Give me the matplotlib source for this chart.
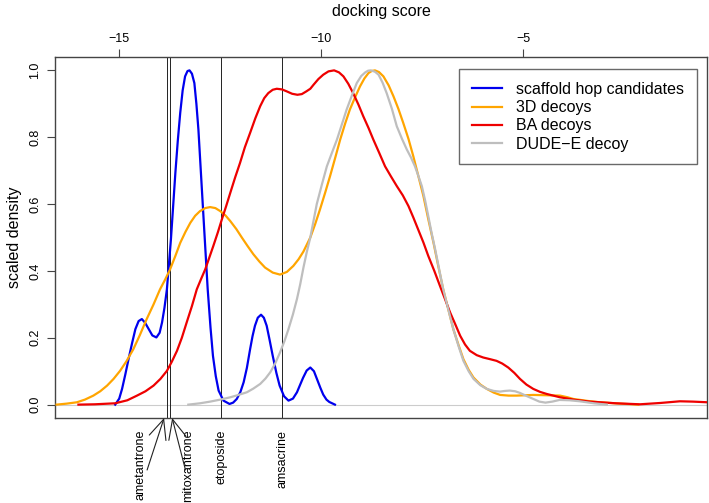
import matplotlib
matplotlib.use("Agg")
import matplotlib.pyplot as plt
from matplotlib.patches import ArrowStyle

plt.rcParams['font.family'] = ['Liberation Sans', 'DejaVu Sans']

# scaled density curves
blue_x = [-15.10, -15.00, -14.93, -14.85, -14.77, -14.68, -14.60, -14.52, -14.44, -14.36,
          -14.27, -14.18, -14.08, -14.00, -13.94, -13.88, -13.82, -13.72, -13.61, -13.55,
          -13.49, -13.43, -13.37, -13.31, -13.26, -13.20, -13.14, -13.09, -13.04, -12.93,
          -12.81, -12.74, -12.68, -12.61, -12.54, -12.42, -12.27, -12.18, -12.09, -12.00,
          -11.92, -11.84, -11.76, -11.70, -11.64, -11.57, -11.49, -11.42, -11.35, -11.28,
          -11.20, -11.11, -11.03, -10.92, -10.81, -10.70, -10.60, -10.52, -10.45, -10.36,
          -10.27, -10.18, -10.10, -10.02, -9.95, -9.87, -9.80, -9.66]
blue_y = [0.0, 0.018, 0.047, 0.09, 0.136, 0.185, 0.226, 0.250, 0.256, 0.245,
          0.226, 0.207, 0.201, 0.215, 0.246, 0.29, 0.345, 0.495, 0.694, 0.79,
          0.873, 0.94, 0.982, 0.998, 1.0, 0.99, 0.962, 0.90, 0.823, 0.594,
          0.345, 0.23, 0.146, 0.085, 0.042, 0.012, 0.002, 0.006, 0.017, 0.038,
          0.067, 0.11, 0.166, 0.205, 0.236, 0.260, 0.269, 0.260, 0.236, 0.195,
          0.146, 0.095, 0.057, 0.025, 0.012, 0.018, 0.037, 0.06, 0.08, 0.102,
          0.111, 0.100, 0.075, 0.05, 0.03, 0.015, 0.008, 0.0]

orange_x = [-16.55, -16.30, -16.05, -15.85, -15.64, -15.47, -15.30, -15.14, -14.98, -14.82,
            -14.65, -14.49, -14.32, -14.15, -13.99, -13.86, -13.74, -13.61, -13.49, -13.36,
            -13.24, -13.12, -13.00, -12.87, -12.75, -12.62, -12.50, -12.37, -12.25, -12.10,
            -11.96, -11.82, -11.68, -11.53, -11.39, -11.20, -11.02, -10.85, -10.69, -10.56,
            -10.44, -10.27, -10.15, -10.03, -9.90, -9.78, -9.65, -9.53, -9.41, -9.29,
            -9.16, -9.04, -8.93, -8.83, -8.75, -8.67, -8.57, -8.46, -8.33, -8.21,
            -8.09, -7.97, -7.84, -7.72, -7.60, -7.47, -7.35, -7.22, -7.10, -6.98,
            -6.85, -6.73, -6.60, -6.48, -6.35, -6.23, -6.06, -5.90, -5.73, -5.57,
            -5.36, -5.16, -4.75, -4.40, -4.09, -3.90, -3.76, -3.40, -3.10, -2.60, -2.15]
orange_y = [0.0, 0.003, 0.007, 0.015, 0.027, 0.04, 0.057, 0.077, 0.101, 0.13,
            0.166, 0.208, 0.256, 0.30, 0.345, 0.375, 0.405, 0.445, 0.484, 0.517,
            0.544, 0.565, 0.579, 0.588, 0.591, 0.588, 0.579, 0.566, 0.549, 0.525,
            0.499, 0.474, 0.450, 0.428, 0.410, 0.395, 0.389, 0.397, 0.415, 0.435,
            0.458, 0.50, 0.54, 0.584, 0.635, 0.684, 0.74, 0.793, 0.84, 0.883,
            0.92, 0.952, 0.976, 0.992, 0.998, 1.0, 0.995, 0.982, 0.955, 0.922,
            0.885, 0.843, 0.795, 0.743, 0.686, 0.624, 0.555, 0.484, 0.413, 0.345,
            0.283, 0.226, 0.178, 0.136, 0.104, 0.081, 0.06, 0.047, 0.036, 0.029,
            0.027, 0.027, 0.029, 0.028, 0.027, 0.022, 0.017, 0.011, 0.007, 0.003, 0.0]

red_x = [-16.01, -15.60, -15.10, -14.80, -14.56, -14.35, -14.15, -13.98, -13.82, -13.70,
         -13.57, -13.45, -13.33, -13.20, -13.08, -12.97, -12.87, -12.77, -12.67, -12.56,
         -12.46, -12.35, -12.25, -12.13, -12.01, -11.89, -11.76, -11.63, -11.51, -11.41,
         -11.31, -11.20, -11.10, -10.97, -10.85, -10.72, -10.59, -10.48, -10.37, -10.27,
         -10.19, -10.07, -9.95, -9.82, -9.68, -9.56, -9.45, -9.33, -9.21, -9.08,
         -8.96, -8.83, -8.71, -8.56, -8.42, -8.27, -8.13, -7.98, -7.84, -7.72,
         -7.60, -7.47, -7.35, -7.20, -7.06, -6.93, -6.81, -6.68, -6.56, -6.44,
         -6.32, -6.15, -5.99, -5.82, -5.66, -5.52, -5.37, -5.22, -5.08, -4.92,
         -4.75, -4.58, -4.42, -4.09, -3.70, -3.35, -2.70, -2.11, -1.60, -1.12, -0.80, -0.43]
red_y = [0.0, 0.001, 0.004, 0.013, 0.027, 0.04, 0.057, 0.077, 0.101, 0.128,
         0.161, 0.2, 0.246, 0.295, 0.345, 0.377, 0.405, 0.44, 0.475, 0.515,
         0.554, 0.595, 0.634, 0.68, 0.723, 0.77, 0.813, 0.857, 0.893, 0.917,
         0.932, 0.942, 0.945, 0.943, 0.937, 0.930, 0.927, 0.929, 0.937, 0.945,
         0.957, 0.974, 0.987, 0.997, 1.0, 0.994, 0.982, 0.96, 0.932, 0.898,
         0.863, 0.828, 0.793, 0.752, 0.713, 0.682, 0.654, 0.626, 0.594, 0.56,
         0.524, 0.485, 0.445, 0.40, 0.355, 0.314, 0.276, 0.24, 0.206, 0.18,
         0.161, 0.148, 0.141, 0.136, 0.131, 0.123, 0.111, 0.095, 0.077, 0.06,
         0.047, 0.038, 0.032, 0.022, 0.014, 0.009, 0.004, 0.001, 0.005, 0.01, 0.009, 0.007]

grey_x = [-13.29, -13.00, -12.75, -12.50, -12.25, -12.05, -11.84, -11.68, -11.51, -11.38,
          -11.26, -11.14, -11.02, -10.91, -10.81, -10.70, -10.60, -10.52, -10.44, -10.36,
          -10.27, -10.19, -10.11, -9.98, -9.86, -9.73, -9.61, -9.49, -9.37, -9.24,
          -9.12, -9.01, -8.91, -8.84, -8.77, -8.67, -8.58, -8.48, -8.38, -8.25,
          -8.13, -8.00, -7.88, -7.78, -7.68, -7.60, -7.51, -7.43, -7.35, -7.27,
          -7.18, -7.08, -6.98, -6.85, -6.73, -6.60, -6.48, -6.35, -6.23, -6.06,
          -5.90, -5.73, -5.57, -5.45, -5.33, -5.20, -5.08, -4.92, -4.75, -4.60,
          -4.45, -4.28, -4.10, -3.85, -3.60, -3.25, -2.93]
grey_y = [0.0, 0.004, 0.009, 0.015, 0.022, 0.029, 0.037, 0.048, 0.062, 0.078,
          0.097, 0.123, 0.156, 0.19, 0.226, 0.27, 0.316, 0.36, 0.41, 0.455,
          0.50, 0.55, 0.60, 0.66, 0.713, 0.755, 0.793, 0.838, 0.883, 0.925,
          0.962, 0.983, 0.994, 0.999, 1.0, 0.996, 0.987, 0.963, 0.932, 0.885,
          0.833, 0.795, 0.763, 0.74, 0.713, 0.686, 0.654, 0.612, 0.564, 0.515,
          0.465, 0.405, 0.345, 0.283, 0.226, 0.175, 0.131, 0.10, 0.077, 0.058,
          0.047, 0.041, 0.039, 0.041, 0.042, 0.04, 0.035, 0.026, 0.017, 0.009,
          0.006, 0.009, 0.014, 0.013, 0.01, 0.004, 0.0]

series_labels = ['scaffold hop candidates', '3D decoys', 'BA decoys', 'DUDE\u2212E decoy']

drug_names = ['ametantrone', 'mitoxantrone', 'etoposide', 'amsacrine']
drug_scores = [-13.82, -13.74, -12.48, -10.96]

fig = plt.figure(figsize=(7.09, 5.03), dpi=100)
ax = fig.add_axes([55 / 709, 1 - 418 / 503, 652 / 709, 361 / 503])

ax.axhline(0, color='#cccccc', lw=0.8, zorder=1)
lw = 1.6
ax.plot(blue_x, blue_y, color='#0000ee', lw=lw, label=series_labels[0], zorder=3)
ax.plot(orange_x, orange_y, color='#ffa500', lw=lw, label=series_labels[1], zorder=3)
ax.plot(red_x, red_y, color='#ee0000', lw=lw, label=series_labels[2], zorder=3)
ax.plot(grey_x, grey_y, color='#bebebe', lw=lw, label=series_labels[3], zorder=3)

for s in drug_scores:
    ax.axvline(s, color='#222222', lw=0.7, zorder=2)

ax.set_xlim(-16.59, -0.45)
ax.set_ylim(-0.04, 1.04)

ax.xaxis.tick_top()
ax.xaxis.set_label_position('top')
ax.set_xticks([-15, -10, -5])
ax.tick_params(axis='x', length=6, width=0.8, color='#444444', labelsize=9, pad=3)
ax.set_xlabel('docking score', fontsize=11.5, labelpad=12)

ax.set_yticks([0, 0.2, 0.4, 0.6, 0.8, 1.0])
ax.set_yticklabels(['0.0', '0.2', '0.4', '0.6', '0.8', '1.0'], rotation=90, va='center')
ax.tick_params(axis='y', length=6, width=0.8, color='#444444', labelsize=9, pad=4)
ax.set_ylabel('scaled density', fontsize=11.5, labelpad=5)

for sp in ax.spines.values():
    sp.set_color('#444444')
    sp.set_linewidth(1.0)

# drug labels under the plot; the two overlapping ones get arrows
trans = ax.get_xaxis_transform()
label_dx = [-0.66, 0.45, 0.0, 0.0]
arrow_dx = [-0.07, 0.05]
for i, (name, s) in enumerate(zip(drug_names, drug_scores)):
    ax.text(s + label_dx[i], -0.033, name, rotation=90, ha='center', va='top',
            fontsize=9, transform=trans, clip_on=False)
    if i < 2:
        ax.annotate('', xy=(s + arrow_dx[i], 0), xycoords=trans,
                    xytext=(s + label_dx[i] + (0.17 if i == 0 else -0.07), -0.144),
                    textcoords=trans,
                    arrowprops=dict(arrowstyle=ArrowStyle('->', head_length=1.0, head_width=0.45),
                                    color='#222222', lw=0.8, shrinkA=0, shrinkB=0,
                                    mutation_scale=14),
                    annotation_clip=False)

leg = ax.legend(loc='upper right', bbox_to_anchor=(696.7 / 709, 1 - 69.3 / 503),
                bbox_transform=fig.transFigure, borderaxespad=0, fontsize=11.5,
                fancybox=False, frameon=True, handlelength=1.9, handletextpad=0.85,
                labelspacing=0.2, borderpad=0.8)
leg.get_frame().set_edgecolor('#444444')
leg.get_frame().set_linewidth(1.0)

fig.savefig('out.png', dpi=100)
